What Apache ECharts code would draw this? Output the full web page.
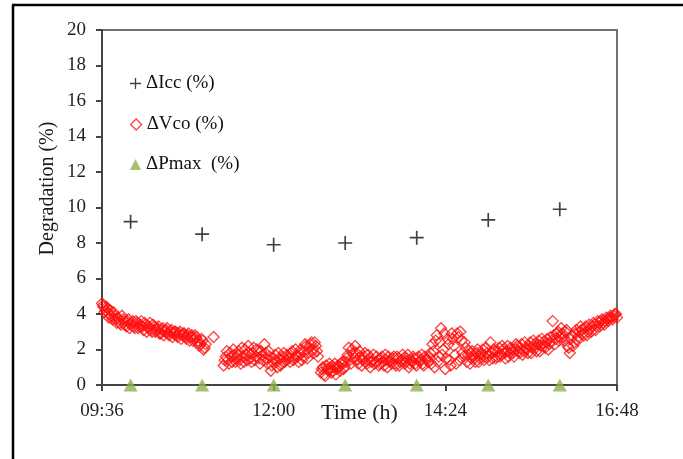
<!DOCTYPE html>
<html>
<head>
<meta charset="utf-8">
<script src="https://cdn.jsdelivr.net/npm/echarts@6/dist/echarts.min.js"></script>
<style>
html,body{margin:0;padding:0;background:#fff;}
#chart{width:683px;height:459px;}
</style>
</head>
<body>
<div id="chart"></div>
<script>
// ---- data (time in decimal hours, values in %) ----
const xTicks = ['09:36', '12:00', '14:24', '16:48'];
const iccHours = [10, 11, 12, 13, 14, 15, 16];
const iccValues = [9.2, 8.5, 7.9, 8.0, 8.3, 9.3, 9.9];
const pmaxHours = [10, 11, 12, 13, 14, 15, 16];
const pmaxValues = [0, 0, 0, 0, 0, 0, 0];
const vcoPoints = [
  [9.60,4.6],[9.62,4.4],[9.65,4.2],[9.68,4.3],[9.70,4.0],[9.73,3.9],[9.76,4.1],[9.79,3.7],[9.82,3.8],[9.85,3.5],
  [9.88,3.9],[9.91,3.6],[9.94,3.3],[9.97,3.7],[10.00,3.4],[10.03,3.6],[10.06,3.2],[10.09,3.5],[10.12,3.3],[10.15,3.6],
  [10.18,3.1],[10.21,3.4],[10.24,3.2],[10.27,3.5],[10.30,3.0],[10.33,3.3],[10.36,3.1],[10.39,3.3],[10.42,2.9],[10.45,3.2],
  [10.48,3.0],[10.51,3.2],[10.54,2.8],[10.57,3.1],[10.60,2.9],[10.63,3.0],[10.66,2.7],[10.69,3.0],[10.72,2.8],[10.75,2.9],
  [10.78,2.6],[10.81,2.9],[10.84,2.7],[10.87,2.5],[10.90,2.8],[10.93,2.4],[10.96,2.2],[10.99,2.6],[11.02,2.0],[11.05,2.3],
  [11.16,2.7],
  [11.30,1.1],[11.33,1.6],[11.36,1.4],[11.39,1.8],[11.42,1.3],[11.45,1.7],[11.48,1.5],[11.51,1.9],[11.54,1.2],[11.57,1.6],
  [11.60,2.0],[11.63,1.4],[11.66,1.8],[11.69,1.3],[11.72,2.1],[11.75,1.6],[11.78,1.9],[11.81,1.2],[11.84,1.7],[11.87,2.3],
  [11.90,1.5],[11.93,1.9],[11.96,0.8],[11.99,1.3],[12.02,1.7],[12.05,1.0],[12.08,1.5],[12.11,1.2],[12.14,1.8],[12.17,1.4],
  [12.20,1.6],[12.23,1.3],[12.26,1.9],[12.29,1.5],[12.32,1.7],[12.35,1.3],[12.38,2.0],[12.41,1.6],[12.44,2.3],[12.47,1.5],
  [12.50,2.1],[12.53,2.4],[12.56,1.8],[12.59,2.2],[12.62,1.6],
  [12.66,0.7],[12.69,1.0],[12.72,0.5],[12.75,0.9],[12.78,1.2],[12.81,0.7],[12.84,1.0],[12.87,0.6],[12.90,1.1],[12.93,0.8],
  [12.96,1.3],[12.99,1.0],[13.02,1.5],[13.05,2.1],[13.08,1.2],[13.11,1.8],[13.14,2.2],[13.17,1.4],[13.20,1.9],[13.23,1.1],
  [13.26,1.6],[13.29,1.3],[13.32,1.7],[13.35,1.0],[13.38,1.4],[13.41,1.2],[13.44,1.6],[13.47,1.1],[13.50,1.5],[13.53,1.3],
  [13.56,1.7],[13.59,1.0],[13.62,1.4],[13.65,1.2],[13.68,1.6],[13.71,1.1],[13.74,1.5],[13.77,1.3],[13.80,1.7],[13.83,1.2],
  [13.86,1.5],[13.89,1.0],[13.92,1.4],[13.95,1.6],[13.98,1.2],[14.01,1.5],[14.04,1.3],[14.07,1.7],[14.10,1.1],[14.13,1.5],
  [14.16,1.3],[14.19,1.8],[14.22,2.3],[14.25,1.0],[14.28,2.8],[14.31,1.6],[14.34,3.2],[14.37,2.0],[14.40,0.9],[14.43,2.6],
  [14.46,1.4],[14.49,2.9],[14.52,2.2],[14.55,1.2],[14.58,2.7],[14.61,3.0],[14.64,1.8],[14.67,2.4],[14.70,1.3],[14.73,1.9],
  [14.76,1.5],[14.79,1.7],[14.82,1.3],[14.85,2.0],[14.88,1.5],[14.91,1.8],[14.94,1.4],[14.97,2.1],[15.00,1.6],[15.03,2.4],
  [15.06,1.5],[15.09,1.9],[15.12,1.6],[15.15,2.1],[15.18,1.7],[15.21,2.0],[15.24,1.5],[15.27,2.2],[15.30,1.8],[15.33,2.0],
  [15.36,1.6],[15.39,2.3],[15.42,1.9],[15.45,2.1],[15.48,1.7],[15.51,2.4],[15.54,2.0],[15.57,2.2],[15.60,1.8],[15.63,2.5],
  [15.66,2.1],[15.69,2.3],[15.72,1.9],[15.75,2.6],[15.78,2.2],[15.81,2.4],[15.84,2.0],[15.87,2.7],[15.90,3.6],[15.93,2.3],
  [15.96,2.9],[15.99,2.5],[16.02,3.2],[16.05,2.7],[16.08,3.0],[16.11,2.2],[16.14,1.8],[16.17,2.8],[16.20,2.4],[16.23,3.1],
  [16.26,2.7],[16.29,3.3],[16.32,2.9],[16.35,3.2],[16.38,2.8],[16.41,3.4],[16.44,3.0],[16.47,3.5],[16.50,3.1],[16.53,3.6],
  [16.56,3.3],[16.59,3.7],[16.62,3.4],[16.65,3.8],[16.68,3.6],[16.71,3.9],[16.74,3.7],[16.77,4.0],[16.80,3.8]
];
const vcoPoints2 = [
  [9.615,4.5],[9.635,4.1],[9.665,4.4],[9.695,3.8],[9.715,4.2],[9.745,3.7],[9.775,3.9],[9.805,3.5],[9.835,3.7],[9.865,3.4],
  [9.895,3.7],[9.925,3.4],[9.955,3.6],[9.985,3.2],[10.015,3.5],[10.045,3.3],[10.075,3.6],[10.105,3.2],[10.135,3.4],[10.165,3.3],
  [10.195,3.5],[10.225,3.0],[10.255,3.3],[10.285,3.1],[10.315,3.4],[10.345,3.0],[10.375,3.2],[10.405,2.9],[10.435,3.1],[10.465,2.8],
  [10.495,3.1],[10.525,2.9],[10.555,3.0],[10.585,2.7],[10.615,3.0],[10.645,2.8],[10.675,2.9],[10.705,2.6],[10.735,2.9],[10.765,2.7],
  [10.795,2.8],[10.825,2.5],[10.855,2.8],[10.885,2.6],[10.915,2.7],[10.945,2.5],[10.975,2.3],[11.005,2.5],[11.035,2.1],
  [11.315,1.4],[11.345,1.9],[11.375,1.2],[11.405,1.6],[11.435,2.0],[11.465,1.3],[11.495,1.7],[11.525,1.4],[11.555,2.1],[11.585,1.3],
  [11.615,1.7],[11.645,2.2],[11.675,1.5],[11.705,1.8],[11.735,1.4],[11.765,2.0],[11.795,1.5],[11.825,1.9],[11.855,1.4],[11.885,1.8],
  [11.915,1.2],[11.945,1.6],[11.975,1.1],[12.005,1.5],[12.035,1.3],[12.065,1.8],[12.095,1.1],[12.125,1.6],[12.155,1.3],[12.185,1.7],
  [12.215,1.5],[12.245,1.8],[12.275,1.4],[12.305,2.0],[12.335,1.6],[12.365,1.8],[12.395,1.4],[12.425,1.9],[12.455,2.2],[12.485,1.8],
  [12.515,2.3],[12.545,2.0],[12.575,2.4],[12.605,1.9],
  [12.675,0.9],[12.705,0.6],[12.735,1.1],[12.765,0.8],[12.795,1.0],[12.825,0.8],[12.855,1.2],[12.885,0.9],[12.915,1.0],[12.945,1.2],
  [12.975,0.9],[13.005,1.3],[13.035,1.7],[13.065,1.4],[13.095,2.0],[13.125,1.5],[13.155,1.8],[13.185,1.2],[13.215,1.6],[13.245,1.4],
  [13.275,1.8],[13.305,1.2],[13.335,1.5],[13.365,1.3],[13.395,1.7],[13.425,1.3],[13.455,1.4],[13.485,1.2],[13.515,1.6],[13.545,1.1],
  [13.575,1.4],[13.605,1.6],[13.635,1.3],[13.665,1.5],[13.695,1.2],[13.725,1.6],[13.755,1.1],[13.785,1.4],[13.815,1.5],[13.845,1.3],
  [13.875,1.7],[13.905,1.2],[13.935,1.3],[13.965,1.5],[13.995,1.1],[14.025,1.6],[14.055,1.4],[14.085,1.2],[14.115,1.6],[14.145,1.4],
  [14.175,1.6],[14.205,1.2],[14.235,1.9],[14.265,2.5],[14.295,1.3],[14.325,2.4],[14.355,1.7],[14.385,2.9],[14.415,1.5],[14.445,2.3],
  [14.475,1.1],[14.505,2.6],[14.535,1.7],[14.565,2.9],[14.595,1.4],[14.625,2.5],[14.655,1.6],[14.685,2.1],[14.715,1.7],[14.745,1.2],
  [14.775,1.9],[14.805,1.5],[14.835,1.8],[14.865,1.3],[14.895,1.7],[14.925,2.0],[14.955,1.6],[14.985,1.8],[15.015,1.4],[15.045,1.8],
  [15.075,2.0],[15.105,1.5],[15.135,1.9],[15.165,1.6],[15.195,2.2],[15.225,1.8],[15.255,1.9],[15.285,1.6],[15.315,2.1],[15.345,1.8],
  [15.375,2.0],[15.405,2.2],[15.435,1.8],[15.465,2.3],[15.495,1.9],[15.525,2.1],[15.555,1.8],[15.585,2.4],[15.615,2.1],[15.645,2.3],
  [15.675,1.9],[15.705,2.5],[15.735,2.2],[15.765,2.4],[15.795,2.1],[15.825,2.6],[15.855,2.3],[15.885,2.5],[15.915,2.8],[15.945,2.6],
  [15.975,3.0],[16.005,2.7],[16.035,2.9],[16.065,2.5],[16.095,3.1],[16.125,2.1],[16.155,2.6],[16.185,2.2],[16.215,2.9],[16.245,2.5],
  [16.275,3.0],[16.305,3.1],[16.335,2.8],[16.365,3.3],[16.395,3.0],[16.425,3.2],[16.455,3.3],[16.485,3.4],[16.515,3.3],[16.545,3.5],
  [16.575,3.6],[16.605,3.5],[16.635,3.6],[16.665,3.7],[16.695,3.8],[16.725,3.8],[16.755,3.9],[16.785,4.0]
];
const seriesNames = ['ΔIcc (%)', 'ΔVco (%)', 'ΔPmax  (%)'];

// ---- chart ----
const FONT = '"Liberation Serif", "Times New Roman", serif';
const PLUS = 'path://M8.8,0H11.2V8.8H20V11.2H11.2V20H8.8V11.2H0V8.8H8.8Z';
function fmtTime(v) {
  const h = Math.floor(v + 1e-9);
  const m = Math.round((v - h) * 60);
  return String(h).padStart(2, '0') + ':' + String(m).padStart(2, '0');
}
const chart = echarts.init(document.getElementById('chart'), null, {renderer: 'canvas'});
const legendBase = {
  orient: 'vertical', left: 125, itemWidth: 11, itemHeight: 11, itemGap: 0,
  textStyle: {fontFamily: FONT, fontSize: 19, color: '#111'}
};
const vcoStyle = {color: 'rgba(0,0,0,0)', borderColor: '#ff1010', borderWidth: 1.3};
chart.setOption({
  animation: false,
  backgroundColor: '#fff',
  grid: {left: 102, right: 66, top: 30, bottom: 74, show: true, borderColor: '#707070', borderWidth: 2, backgroundColor: 'transparent'},
  legend: [
    Object.assign({}, legendBase, {top: 69, data: [{name: seriesNames[0], icon: PLUS, itemStyle: {color: '#111'}}]}),
    Object.assign({}, legendBase, {top: 110, data: [{name: seriesNames[1], icon: 'diamond', itemStyle: vcoStyle}]}),
    Object.assign({}, legendBase, {top: 150, data: [{name: seriesNames[2], icon: 'triangle', itemStyle: {color: '#8fb04a'}}]})
  ],
  xAxis: {
    type: 'value', min: 9.6, max: 16.8, interval: 2.4,
    name: 'Time (h)', nameLocation: 'middle', nameGap: 17, nameMoveOverlap: false,
    nameTextStyle: {fontFamily: FONT, fontSize: 22, color: '#1a1a1a'},
    axisLine: {show: true, onZero: false, lineStyle: {color: '#444', width: 2}},
    axisTick: {show: true, length: 6, lineStyle: {color: '#444', width: 2}},
    axisLabel: {formatter: function (v) { return fmtTime(v); }, fontFamily: FONT, fontSize: 19, color: '#1f1f1f', margin: 17, showMinLabel: true, showMaxLabel: true},
    splitLine: {show: false}
  },
  yAxis: {
    type: 'value', min: 0, max: 20, interval: 2,
    name: 'Degradation (%)', nameLocation: 'middle', nameGap: 44, nameMoveOverlap: false,
    nameTextStyle: {fontFamily: FONT, fontSize: 20, color: '#1a1a1a', padding: [0, 0, 0, 38]},
    axisLine: {show: true, lineStyle: {color: '#444', width: 2}},
    axisTick: {show: true, length: 6, lineStyle: {color: '#444', width: 2}},
    axisLabel: {fontFamily: FONT, fontSize: 19, color: '#1f1f1f', margin: 16},
    splitLine: {show: false}
  },
  graphic: [
    {type: 'line', shape: {x1: 13, y1: 5, x2: 13, y2: 459}, style: {stroke: '#000', lineWidth: 2.5}, z: 100},
    {type: 'line', shape: {x1: 12, y1: 5, x2: 683, y2: 5}, style: {stroke: '#000', lineWidth: 2.5}, z: 100}
  ],
  series: [
    {
      name: seriesNames[0], type: 'scatter', symbol: PLUS, symbolSize: 14,
      itemStyle: {color: '#111'},
      data: iccHours.map(function (h, i) { return [h, iccValues[i]]; })
    },
    {
      name: seriesNames[1], type: 'scatter', symbol: 'diamond', symbolSize: 11,
      itemStyle: vcoStyle,
      data: vcoPoints.concat(vcoPoints2)
    },
    {
      name: seriesNames[2], type: 'scatter', symbol: 'triangle', symbolSize: [14, 13], clip: false,
      itemStyle: {color: '#8fb04a'},
      data: pmaxHours.map(function (h, i) { return [h, pmaxValues[i]]; })
    }
  ]
});
</script>
</body>
</html>
